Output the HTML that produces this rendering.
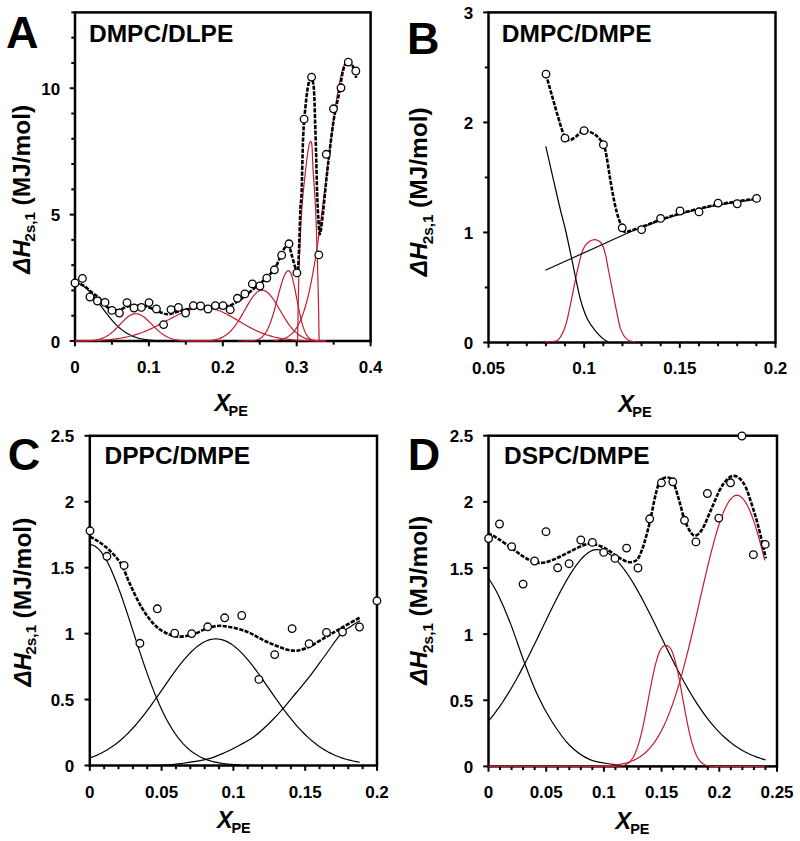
<!DOCTYPE html>
<html><head><meta charset="utf-8"><style>
html,body{margin:0;padding:0;background:#fff;}
svg{display:block;font-family:"Liberation Sans", sans-serif;}
</style></head><body>
<svg width="800" height="841" viewBox="0 0 800 841">
<rect width="800" height="841" fill="#fff"/>
<rect x="75" y="12.4" width="295.6" height="328.6" fill="none" stroke="#000" stroke-width="2.5"/>
<line x1="75" y1="341" x2="75" y2="346.3" stroke="#000" stroke-width="2"/>
<line x1="111.95" y1="341" x2="111.95" y2="344.7" stroke="#000" stroke-width="2"/>
<line x1="148.9" y1="341" x2="148.9" y2="346.3" stroke="#000" stroke-width="2"/>
<line x1="185.85" y1="341" x2="185.85" y2="344.7" stroke="#000" stroke-width="2"/>
<line x1="222.8" y1="341" x2="222.8" y2="346.3" stroke="#000" stroke-width="2"/>
<line x1="259.75" y1="341" x2="259.75" y2="344.7" stroke="#000" stroke-width="2"/>
<line x1="296.7" y1="341" x2="296.7" y2="346.3" stroke="#000" stroke-width="2"/>
<line x1="333.65" y1="341" x2="333.65" y2="344.7" stroke="#000" stroke-width="2"/>
<line x1="370.6" y1="341" x2="370.6" y2="346.3" stroke="#000" stroke-width="2"/>
<line x1="75" y1="341" x2="69.7" y2="341" stroke="#000" stroke-width="2"/>
<line x1="75" y1="315.72" x2="71.3" y2="315.72" stroke="#000" stroke-width="2"/>
<line x1="75" y1="290.45" x2="71.3" y2="290.45" stroke="#000" stroke-width="2"/>
<line x1="75" y1="265.17" x2="71.3" y2="265.17" stroke="#000" stroke-width="2"/>
<line x1="75" y1="239.89" x2="71.3" y2="239.89" stroke="#000" stroke-width="2"/>
<line x1="75" y1="214.62" x2="69.7" y2="214.62" stroke="#000" stroke-width="2"/>
<line x1="75" y1="189.34" x2="71.3" y2="189.34" stroke="#000" stroke-width="2"/>
<line x1="75" y1="164.06" x2="71.3" y2="164.06" stroke="#000" stroke-width="2"/>
<line x1="75" y1="138.78" x2="71.3" y2="138.78" stroke="#000" stroke-width="2"/>
<line x1="75" y1="113.51" x2="71.3" y2="113.51" stroke="#000" stroke-width="2"/>
<line x1="75" y1="88.23" x2="69.7" y2="88.23" stroke="#000" stroke-width="2"/>
<line x1="75" y1="62.95" x2="71.3" y2="62.95" stroke="#000" stroke-width="2"/>
<line x1="75" y1="37.68" x2="71.3" y2="37.68" stroke="#000" stroke-width="2"/>
<line x1="75" y1="12.4" x2="71.3" y2="12.4" stroke="#000" stroke-width="2"/>
<text x="75" y="373.2" font-size="17" text-anchor="middle" font-weight="bold" font-style="normal" >0</text>
<text x="148.9" y="373.2" font-size="17" text-anchor="middle" font-weight="bold" font-style="normal" >0.1</text>
<text x="222.8" y="373.2" font-size="17" text-anchor="middle" font-weight="bold" font-style="normal" >0.2</text>
<text x="296.7" y="373.2" font-size="17" text-anchor="middle" font-weight="bold" font-style="normal" >0.3</text>
<text x="370.6" y="373.2" font-size="17" text-anchor="middle" font-weight="bold" font-style="normal" >0.4</text>
<text x="60.2" y="347.6" font-size="17" text-anchor="end" font-weight="bold" font-style="normal" >0</text>
<text x="60.2" y="221.22" font-size="17" text-anchor="end" font-weight="bold" font-style="normal" >5</text>
<text x="60.2" y="94.83" font-size="17" text-anchor="end" font-weight="bold" font-style="normal" >10</text>
<text x="5.95" y="48.4" font-size="45" text-anchor="start" font-weight="bold" font-style="normal" >A</text>
<text x="89" y="42" font-size="24.5" text-anchor="start" font-weight="bold" font-style="normal" >DMPC/DLPE</text>
<text transform="translate(29.5 273.7) rotate(-90)" font-size="24" font-weight="bold" font-style="italic">&#916;H</text>
<text transform="translate(35.2 241.85) rotate(-90)" font-size="15.4" font-weight="bold">2s,1</text>
<text transform="translate(29.5 205.5) rotate(-90)" font-size="24.5" font-weight="bold">(MJ/mol)</text>
<text x="214.4" y="411.3" font-size="23.5" font-weight="bold" font-style="italic">X</text>
<text x="228.6" y="415.8" font-size="14.5" font-weight="bold">PE</text>
<path d="M75 283.12 L75.99 283.16 L76.97 283.28 L77.96 283.49 L78.94 283.78 L79.93 284.16 L80.91 284.61 L81.9 285.14 L82.88 285.74 L83.87 286.42 L84.85 287.17 L85.84 287.98 L86.82 288.86 L87.81 289.8 L88.79 290.79 L89.78 291.84 L90.77 292.93 L91.75 294.07 L92.74 295.24 L93.72 296.46 L94.71 297.7 L95.69 298.97 L96.68 300.26 L97.66 301.57 L98.65 302.89 L99.63 304.22 L100.62 305.56 L101.6 306.89 L102.59 308.23 L103.57 309.56 L104.56 310.87 L105.55 312.18 L106.53 313.47 L107.52 314.73 L108.5 315.98 L109.49 317.2 L110.47 318.4 L111.46 319.56 L112.44 320.7 L113.43 321.8 L114.41 322.87 L115.4 323.91 L116.38 324.91 L117.37 325.87 L118.35 326.79 L119.34 327.68 L120.33 328.53 L121.31 329.35 L122.3 330.12 L123.28 330.86 L124.27 331.57 L125.25 332.23 L126.24 332.86 L127.22 333.46 L128.21 334.02 L129.19 334.55 L130.18 335.05 L131.16 335.52 L132.15 335.96 L133.13 336.37 L134.12 336.75 L135.11 337.11 L136.09 337.44 L137.08 337.75 L138.06 338.04 L139.05 338.3 L140.03 338.55 L141.02 338.77 L142 338.98 L142.99 339.17 L143.97 339.35 L144.96 339.51 L145.94 339.65 L146.93 339.79 L147.91 339.91 L148.9 340.02 L149.89 340.12 L150.87 340.22 L151.86 340.3 L152.84 340.38 L153.83 340.44 L154.81 340.5 L155.8 340.56 L156.78 340.61 L157.77 340.65 L158.75 340.69 L159.74 340.73 L160.72 340.76 L161.71 340.79 L162.69 340.82 L163.68 340.84 L164.67 340.86 L165.65 340.88 L166.64 340.89 L167.62 340.9 L168.61 340.92 L169.59 340.93 L170.58 340.94 L171.56 340.95 L172.55 340.95 L173.53 340.96 L174.52 340.96 L175.5 340.97 L176.49 340.97 L177.47 340.98 L178.46 340.98 L179.45 340.98 L180.43 340.99 L181.42 340.99 L182.4 340.99 L183.39 340.99 L184.37 340.99 L185.36 340.99 L186.34 340.99 L187.33 341 L188.31 341 L189.3 341 L190.28 341 L191.27 341 L192.25 341 L193.24 341" fill="none" stroke="#000" stroke-width="1.2"/>
<path d="M75 340.99 L76.23 340.98 L77.46 340.98 L78.7 340.97 L79.93 340.96 L81.16 340.94 L82.39 340.92 L83.62 340.9 L84.85 340.87 L86.09 340.83 L87.32 340.78 L88.55 340.72 L89.78 340.65 L91.01 340.56 L92.24 340.45 L93.47 340.31 L94.71 340.15 L95.94 339.96 L97.17 339.73 L98.4 339.46 L99.63 339.14 L100.87 338.77 L102.1 338.34 L103.33 337.86 L104.56 337.31 L105.79 336.68 L107.02 335.99 L108.25 335.22 L109.49 334.37 L110.72 333.45 L111.95 332.45 L113.18 331.38 L114.41 330.25 L115.65 329.05 L116.88 327.81 L118.11 326.53 L119.34 325.23 L120.57 323.92 L121.8 322.61 L123.03 321.33 L124.27 320.09 L125.5 318.91 L126.73 317.81 L127.96 316.81 L129.19 315.93 L130.43 315.18 L131.66 314.57 L132.89 314.11 L134.12 313.82 L135.35 313.7 L136.58 313.75 L137.81 313.95 L139.05 314.31 L140.28 314.81 L141.51 315.45 L142.74 316.21 L143.97 317.09 L145.2 318.07 L146.44 319.14 L147.67 320.28 L148.9 321.47 L150.13 322.69 L151.36 323.94 L152.6 325.19 L153.83 326.44 L155.06 327.66 L156.29 328.85 L157.52 330 L158.75 331.1 L159.99 332.14 L161.22 333.11 L162.45 334.02 L163.68 334.86 L164.91 335.63 L166.14 336.33 L167.38 336.96 L168.61 337.52 L169.84 338.03 L171.07 338.47 L172.3 338.86 L173.53 339.21 L174.76 339.5 L176 339.75 L177.23 339.97 L178.46 340.15 L179.69 340.31 L180.92 340.44 L182.16 340.55 L183.39 340.64 L184.62 340.71 L185.85 340.77 L187.08 340.82 L188.31 340.86 L189.55 340.89 L190.78 340.91 L192.01 340.93 L193.24 340.95 L194.47 340.96 L195.7 340.97 L196.94 340.98 L198.17 340.98 L199.4 340.99 L200.63 340.99 L201.86 340.99 L203.09 341 L204.32 341 L205.56 341 L206.79 341 L208.02 341 L209.25 341 L210.48 341 L211.72 341 L212.95 341 L214.18 341 L215.41 341 L216.64 341 L217.87 341 L219.11 341 L220.34 341 L221.57 341 L222.8 341" fill="none" stroke="#c41c30" stroke-width="1.2"/>
<path d="M75 340.91 L77.03 340.89 L79.06 340.87 L81.1 340.84 L83.13 340.81 L85.16 340.77 L87.19 340.73 L89.23 340.69 L91.26 340.63 L93.29 340.56 L95.32 340.49 L97.35 340.41 L99.39 340.31 L101.42 340.2 L103.45 340.07 L105.48 339.93 L107.52 339.77 L109.55 339.59 L111.58 339.38 L113.61 339.16 L115.65 338.91 L117.68 338.63 L119.71 338.32 L121.74 337.98 L123.77 337.6 L125.81 337.19 L127.84 336.74 L129.87 336.26 L131.9 335.73 L133.94 335.17 L135.97 334.56 L138 333.91 L140.03 333.21 L142.06 332.47 L144.1 331.69 L146.13 330.87 L148.16 330.01 L150.19 329.11 L152.23 328.17 L154.26 327.19 L156.29 326.19 L158.32 325.16 L160.35 324.11 L162.39 323.04 L164.42 321.95 L166.45 320.86 L168.48 319.77 L170.52 318.69 L172.55 317.62 L174.58 316.56 L176.61 315.54 L178.64 314.55 L180.68 313.6 L182.71 312.69 L184.74 311.85 L186.77 311.06 L188.81 310.35 L190.84 309.7 L192.87 309.14 L194.9 308.66 L196.94 308.27 L198.97 307.97 L201 307.76 L203.03 307.65 L205.06 307.64 L207.1 307.75 L209.13 307.97 L211.16 308.3 L213.19 308.75 L215.23 309.31 L217.26 309.96 L219.29 310.72 L221.32 311.56 L223.35 312.47 L225.39 313.46 L227.42 314.51 L229.45 315.61 L231.48 316.75 L233.52 317.92 L235.55 319.12 L237.58 320.32 L239.61 321.53 L241.64 322.74 L243.68 323.93 L245.71 325.1 L247.74 326.24 L249.77 327.35 L251.81 328.42 L253.84 329.45 L255.87 330.43 L257.9 331.36 L259.93 332.25 L261.97 333.08 L264 333.85 L266.03 334.58 L268.06 335.25 L270.1 335.87 L272.13 336.44 L274.16 336.96 L276.19 337.43 L278.23 337.86 L280.26 338.25 L282.29 338.6 L284.32 338.91 L286.35 339.18 L288.39 339.43 L290.42 339.65 L292.45 339.84 L294.48 340.01 L296.52 340.16 L298.55 340.28 L300.58 340.39 L302.61 340.49 L304.64 340.57 L306.68 340.64 L308.71 340.7 L310.74 340.75 L312.77 340.79 L314.81 340.83 L316.84 340.86 L318.87 340.89" fill="none" stroke="#c41c30" stroke-width="1.2"/>
<path d="M185.85 341 L187.02 341 L188.19 340.99 L189.36 340.99 L190.53 340.99 L191.7 340.99 L192.87 340.98 L194.04 340.98 L195.21 340.97 L196.38 340.96 L197.55 340.95 L198.72 340.93 L199.89 340.92 L201.06 340.89 L202.23 340.86 L203.4 340.83 L204.57 340.79 L205.74 340.73 L206.91 340.67 L208.08 340.59 L209.25 340.5 L210.42 340.39 L211.59 340.25 L212.76 340.09 L213.93 339.9 L215.1 339.68 L216.27 339.42 L217.44 339.12 L218.61 338.77 L219.78 338.37 L220.95 337.91 L222.12 337.38 L223.29 336.78 L224.46 336.11 L225.63 335.36 L226.8 334.52 L227.97 333.58 L229.14 332.55 L230.31 331.43 L231.48 330.2 L232.65 328.86 L233.82 327.43 L234.99 325.89 L236.16 324.26 L237.33 322.53 L238.5 320.72 L239.67 318.83 L240.84 316.88 L242.01 314.87 L243.18 312.82 L244.35 310.75 L245.52 308.68 L246.69 306.62 L247.86 304.59 L249.03 302.62 L250.2 300.72 L251.37 298.93 L252.54 297.25 L253.71 295.71 L254.88 294.33 L256.06 293.12 L257.23 292.11 L258.4 291.3 L259.57 290.71 L260.74 290.34 L261.91 290.19 L263.08 290.28 L264.25 290.57 L265.42 291.08 L266.59 291.79 L267.76 292.7 L268.93 293.79 L270.1 295.06 L271.27 296.47 L272.44 298.03 L273.61 299.71 L274.78 301.49 L275.95 303.35 L277.12 305.28 L278.29 307.26 L279.46 309.25 L280.63 311.26 L281.8 313.26 L282.97 315.23 L284.14 317.17 L285.31 319.05 L286.48 320.87 L287.65 322.62 L288.82 324.28 L289.99 325.86 L291.16 327.35 L292.33 328.75 L293.5 330.05 L294.67 331.25 L295.84 332.35 L297.01 333.37 L298.18 334.29 L299.35 335.13 L300.52 335.88 L301.69 336.56 L302.86 337.16 L304.03 337.7 L305.2 338.17 L306.37 338.59 L307.54 338.95 L308.71 339.26 L309.88 339.54 L311.05 339.77 L312.22 339.98 L313.39 340.15 L314.56 340.29 L315.73 340.42 L316.9 340.52 L318.07 340.61 L319.24 340.68 L320.41 340.74 L321.58 340.79 L322.75 340.83 L323.92 340.87 L325.09 340.89 L326.26 340.92" fill="none" stroke="#c41c30" stroke-width="1.2"/>
<path d="M237.58 341 L238.32 341 L239.06 341 L239.8 341 L240.54 340.99 L241.28 340.99 L242.01 340.99 L242.75 340.99 L243.49 340.98 L244.23 340.98 L244.97 340.97 L245.71 340.96 L246.45 340.95 L247.19 340.93 L247.93 340.92 L248.67 340.89 L249.4 340.86 L250.14 340.83 L250.88 340.78 L251.62 340.73 L252.36 340.66 L253.1 340.58 L253.84 340.48 L254.58 340.36 L255.32 340.22 L256.06 340.05 L256.79 339.85 L257.53 339.61 L258.27 339.32 L259.01 338.99 L259.75 338.61 L260.49 338.16 L261.23 337.65 L261.97 337.06 L262.71 336.38 L263.44 335.62 L264.18 334.75 L264.92 333.78 L265.66 332.7 L266.4 331.49 L267.14 330.16 L267.88 328.69 L268.62 327.09 L269.36 325.36 L270.1 323.48 L270.84 321.46 L271.57 319.31 L272.31 317.03 L273.05 314.63 L273.79 312.11 L274.53 309.5 L275.27 306.8 L276.01 304.03 L276.75 301.22 L277.49 298.38 L278.23 295.54 L278.96 292.73 L279.7 289.97 L280.44 287.3 L281.18 284.73 L281.92 282.31 L282.66 280.05 L283.4 277.98 L284.14 276.13 L284.88 274.53 L285.62 273.18 L286.35 272.12 L287.09 271.35 L287.83 270.89 L288.57 270.73 L289.31 271.02 L290.05 271.88 L290.79 273.3 L291.53 275.23 L292.27 277.63 L293 280.44 L293.74 283.61 L294.48 287.06 L295.22 290.72 L295.96 294.52 L296.7 298.38 L297.44 302.24 L298.18 306.05 L298.92 309.74 L299.66 313.27 L300.4 316.6 L301.13 319.71 L301.87 322.58 L302.61 325.19 L303.35 327.54 L304.09 329.64 L304.83 331.49 L305.57 333.1 L306.31 334.5 L307.05 335.69 L307.79 336.7 L308.52 337.54 L309.26 338.25 L310 338.82 L310.74 339.3 L311.48 339.68 L312.22 339.98 L312.96 340.22 L313.7 340.41 L314.44 340.55 L315.18 340.67 L315.91 340.75 L316.65 340.82 L317.39 340.87 L318.13 340.91 L318.87 340.93 L319.61 340.95 L320.35 340.97 L321.09 340.98 L321.83 340.98 L322.57 340.99 L323.3 340.99 L324.04 340.99 L324.78 341 L325.52 341 L326.26 341" fill="none" stroke="#c41c30" stroke-width="1.2"/>
<path d="M297.6 341C297.68 335.67 297.8 322.85 298.1 309C298.4 295.15 298.75 274.95 299.4 257.9C300.05 240.85 300.93 221.62 302 206.7C303.07 191.78 304.72 178.18 305.8 168.4C306.88 158.62 307.73 152.48 308.5 148C309.27 143.52 309.82 141.83 310.4 141.5C310.98 141.17 311.57 141.52 312 146C312.43 150.48 312.42 158.28 313 168.4C313.58 178.52 314.78 191.78 315.5 206.7C316.22 221.62 316.78 240.85 317.3 257.9C317.82 274.95 318.3 295.15 318.6 309C318.9 322.85 319.02 335.67 319.1 341" fill="none" stroke="#c41c30" stroke-width="1.2"/>
<path d="M274.53 340.46 L275.21 340.4 L275.89 340.32 L276.57 340.24 L277.25 340.15 L277.93 340.05 L278.61 339.94 L279.29 339.82 L279.97 339.68 L280.65 339.53 L281.33 339.37 L282.02 339.19 L282.7 338.99 L283.38 338.77 L284.06 338.53 L284.74 338.27 L285.42 337.98 L286.1 337.67 L286.78 337.33 L287.46 336.96 L288.14 336.56 L288.82 336.12 L289.5 335.64 L290.18 335.13 L290.86 334.57 L291.54 333.97 L292.22 333.31 L292.9 332.61 L293.58 331.85 L294.26 331.04 L294.94 330.16 L295.63 329.22 L296.31 328.21 L296.99 327.13 L297.67 325.97 L298.35 324.74 L299.03 323.42 L299.71 322.01 L300.39 320.52 L301.07 318.93 L301.75 317.25 L302.43 315.46 L303.11 313.57 L303.79 311.58 L304.47 309.47 L305.15 307.24 L305.83 304.9 L306.51 302.44 L307.19 299.85 L307.87 297.14 L308.55 294.3 L309.24 291.33 L309.92 288.23 L310.6 285 L311.28 281.63 L311.96 278.12 L312.64 274.49 L313.32 270.71 L314 266.81 L314.68 262.77 L315.36 258.6 L316.04 254.3 L316.72 249.88 L317.4 245.33 L318.08 240.67 L318.76 235.89 L319.44 231 L320.12 226.01 L320.8 220.93 L321.48 215.75 L322.16 210.5 L322.85 205.17 L323.53 199.77 L324.21 194.32 L324.89 188.83 L325.57 183.29 L326.25 177.74 L326.93 172.17 L327.61 166.6 L328.29 161.04 L328.97 155.51 L329.65 150.01 L330.33 144.56 L331.01 139.17 L331.69 133.86 L332.37 128.64 L333.05 123.52 L333.73 118.53 L334.41 113.66 L335.09 108.94 L335.77 104.37 L336.46 99.98 L337.14 95.77 L337.82 91.75 L338.5 87.95 L339.18 84.36 L339.86 81 L340.54 77.89 L341.22 75.03 L341.9 72.42 L342.58 70.08 L343.26 68.02 L343.94 66.24 L344.62 64.75 L345.3 63.55 L345.98 62.64 L346.66 62.03 L347.34 61.73 L348.02 61.71 L348.7 61.85 L349.38 62.15 L350.07 62.59 L350.75 63.18 L351.43 63.91 L352.11 64.79 L352.79 65.81 L353.47 66.97 L354.15 68.27 L354.83 69.71 L355.51 71.29 L356.19 73" fill="none" stroke="#c41c30" stroke-width="1.2"/>
<path d="M75 283.5C75.83 283.54 78.12 283.08 80 283.75C81.88 284.42 84.17 285.94 86.25 287.5C88.33 289.06 90.42 291.43 92.5 293.1C94.58 294.77 96.46 295.31 98.75 297.5C101.04 299.69 103.75 304.17 106.25 306.25C108.75 308.33 111.46 309.42 113.75 310C116.04 310.58 117.92 310.27 120 309.75C122.08 309.23 124.17 307.62 126.25 306.9C128.33 306.17 130.21 305.62 132.5 305.4C134.79 305.18 137.5 305.35 140 305.6C142.5 305.85 145 306.17 147.5 306.9C150 307.63 152.5 308.97 155 310C157.5 311.03 160.2 312.4 162.5 313.1C164.8 313.8 165.88 314.55 168.8 314.2C171.72 313.85 175.93 312 180 311C184.07 310 188.82 308.83 193.2 308.2C197.58 307.57 201.62 307.37 206.3 307.2C210.98 307.03 216.92 307.67 221.3 307.2C225.68 306.73 228.85 306.12 232.6 304.4C236.35 302.68 240.05 299.72 243.8 296.9C247.55 294.08 251.35 290.63 255.1 287.5C258.85 284.37 262.87 281.53 266.3 278.1C269.73 274.67 272.93 271.45 275.7 266.9C278.47 262.35 280.78 254.4 282.9 250.8C285.02 247.2 286.87 244.37 288.4 245.3C289.93 246.23 290.87 252.4 292.1 256.4C293.33 260.4 294.85 266.87 295.8 269.3C296.75 271.73 297.23 275.05 297.8 271C298.37 266.95 298.77 255.43 299.2 245C299.63 234.57 300 217.13 300.4 208.4C300.8 199.67 301.13 204.73 301.6 192.6C302.07 180.47 302.5 150.45 303.2 135.6C303.9 120.75 304.92 112.12 305.8 103.5C306.68 94.88 307.53 88.07 308.5 83.9C309.47 79.73 310.7 77.62 311.6 78.5C312.5 79.38 313.32 82.07 313.9 89.2C314.48 96.33 314.72 110 315.1 121.3C315.48 132.6 315.87 145.12 316.2 157C316.53 168.88 316.75 182.5 317.1 192.6C317.45 202.7 317.85 210.67 318.3 217.6C318.75 224.53 319.1 234.2 319.8 234.2C320.5 234.2 321.58 224.97 322.5 217.6C323.42 210.23 324.37 198.92 325.3 190C326.23 181.08 326.73 175.55 328.1 164.1C329.47 152.65 331.72 132.88 333.5 121.3C335.28 109.72 337.17 103.22 338.8 94.6C340.43 85.98 341.82 75.1 343.3 69.6C344.78 64.1 346.07 62.05 347.7 61.6C349.33 61.15 351.68 64.2 353.1 66.9C354.52 69.6 355.68 75.98 356.2 77.8" fill="none" stroke="#000" stroke-width="2.6" stroke-dasharray="4.2 1.4"/>
<circle cx="75" cy="283" r="3.8" fill="#fff" stroke="#000" stroke-width="1.3"/>
<circle cx="82.4" cy="278.4" r="3.8" fill="#fff" stroke="#000" stroke-width="1.3"/>
<circle cx="90" cy="297" r="3.8" fill="#fff" stroke="#000" stroke-width="1.3"/>
<circle cx="97.4" cy="301" r="3.8" fill="#fff" stroke="#000" stroke-width="1.3"/>
<circle cx="105" cy="302.4" r="3.8" fill="#fff" stroke="#000" stroke-width="1.3"/>
<circle cx="112" cy="310.4" r="3.8" fill="#fff" stroke="#000" stroke-width="1.3"/>
<circle cx="119.4" cy="313" r="3.8" fill="#fff" stroke="#000" stroke-width="1.3"/>
<circle cx="127" cy="302.6" r="3.8" fill="#fff" stroke="#000" stroke-width="1.3"/>
<circle cx="134" cy="308" r="3.8" fill="#fff" stroke="#000" stroke-width="1.3"/>
<circle cx="141.4" cy="307.4" r="3.8" fill="#fff" stroke="#000" stroke-width="1.3"/>
<circle cx="149" cy="302.6" r="3.8" fill="#fff" stroke="#000" stroke-width="1.3"/>
<circle cx="156.4" cy="309" r="3.8" fill="#fff" stroke="#000" stroke-width="1.3"/>
<circle cx="163.6" cy="324.6" r="3.8" fill="#fff" stroke="#000" stroke-width="1.3"/>
<circle cx="171" cy="309.6" r="3.8" fill="#fff" stroke="#000" stroke-width="1.3"/>
<circle cx="178.4" cy="307.4" r="3.8" fill="#fff" stroke="#000" stroke-width="1.3"/>
<circle cx="185.6" cy="313" r="3.8" fill="#fff" stroke="#000" stroke-width="1.3"/>
<circle cx="193.4" cy="305.6" r="3.8" fill="#fff" stroke="#000" stroke-width="1.3"/>
<circle cx="200.6" cy="306" r="3.8" fill="#fff" stroke="#000" stroke-width="1.3"/>
<circle cx="208" cy="309" r="3.8" fill="#fff" stroke="#000" stroke-width="1.3"/>
<circle cx="215.4" cy="305.6" r="3.8" fill="#fff" stroke="#000" stroke-width="1.3"/>
<circle cx="223" cy="305.6" r="3.8" fill="#fff" stroke="#000" stroke-width="1.3"/>
<circle cx="230.2" cy="309.7" r="3.8" fill="#fff" stroke="#000" stroke-width="1.3"/>
<circle cx="237.4" cy="298.3" r="3.8" fill="#fff" stroke="#000" stroke-width="1.3"/>
<circle cx="244.9" cy="293.9" r="3.8" fill="#fff" stroke="#000" stroke-width="1.3"/>
<circle cx="252.4" cy="283.9" r="3.8" fill="#fff" stroke="#000" stroke-width="1.3"/>
<circle cx="259.9" cy="286" r="3.8" fill="#fff" stroke="#000" stroke-width="1.3"/>
<circle cx="266.8" cy="278.1" r="3.8" fill="#fff" stroke="#000" stroke-width="1.3"/>
<circle cx="274.4" cy="269.8" r="3.8" fill="#fff" stroke="#000" stroke-width="1.3"/>
<circle cx="281.7" cy="255.2" r="3.8" fill="#fff" stroke="#000" stroke-width="1.3"/>
<circle cx="289" cy="243.8" r="3.8" fill="#fff" stroke="#000" stroke-width="1.3"/>
<circle cx="296.9" cy="272.9" r="3.8" fill="#fff" stroke="#000" stroke-width="1.3"/>
<circle cx="304.1" cy="119.2" r="3.8" fill="#fff" stroke="#000" stroke-width="1.3"/>
<circle cx="311.6" cy="77.1" r="3.8" fill="#fff" stroke="#000" stroke-width="1.3"/>
<circle cx="318.8" cy="254.9" r="3.8" fill="#fff" stroke="#000" stroke-width="1.3"/>
<circle cx="326.3" cy="154.3" r="3.8" fill="#fff" stroke="#000" stroke-width="1.3"/>
<circle cx="333.5" cy="108.8" r="3.8" fill="#fff" stroke="#000" stroke-width="1.3"/>
<circle cx="341" cy="87.8" r="3.8" fill="#fff" stroke="#000" stroke-width="1.3"/>
<circle cx="348.3" cy="62.1" r="3.8" fill="#fff" stroke="#000" stroke-width="1.3"/>
<circle cx="355.8" cy="71" r="3.8" fill="#fff" stroke="#000" stroke-width="1.3"/>
<rect x="488.5" y="12.4" width="287" height="330.1" fill="none" stroke="#000" stroke-width="2.5"/>
<line x1="488.5" y1="342.5" x2="488.5" y2="347.8" stroke="#000" stroke-width="2"/>
<line x1="507.63" y1="342.5" x2="507.63" y2="346.2" stroke="#000" stroke-width="2"/>
<line x1="526.77" y1="342.5" x2="526.77" y2="346.2" stroke="#000" stroke-width="2"/>
<line x1="545.9" y1="342.5" x2="545.9" y2="346.2" stroke="#000" stroke-width="2"/>
<line x1="565.03" y1="342.5" x2="565.03" y2="346.2" stroke="#000" stroke-width="2"/>
<line x1="584.17" y1="342.5" x2="584.17" y2="347.8" stroke="#000" stroke-width="2"/>
<line x1="603.3" y1="342.5" x2="603.3" y2="346.2" stroke="#000" stroke-width="2"/>
<line x1="622.43" y1="342.5" x2="622.43" y2="346.2" stroke="#000" stroke-width="2"/>
<line x1="641.57" y1="342.5" x2="641.57" y2="346.2" stroke="#000" stroke-width="2"/>
<line x1="660.7" y1="342.5" x2="660.7" y2="346.2" stroke="#000" stroke-width="2"/>
<line x1="679.83" y1="342.5" x2="679.83" y2="347.8" stroke="#000" stroke-width="2"/>
<line x1="698.97" y1="342.5" x2="698.97" y2="346.2" stroke="#000" stroke-width="2"/>
<line x1="718.1" y1="342.5" x2="718.1" y2="346.2" stroke="#000" stroke-width="2"/>
<line x1="737.23" y1="342.5" x2="737.23" y2="346.2" stroke="#000" stroke-width="2"/>
<line x1="756.37" y1="342.5" x2="756.37" y2="346.2" stroke="#000" stroke-width="2"/>
<line x1="775.5" y1="342.5" x2="775.5" y2="347.8" stroke="#000" stroke-width="2"/>
<line x1="488.5" y1="342.5" x2="483.2" y2="342.5" stroke="#000" stroke-width="2"/>
<line x1="488.5" y1="287.48" x2="484.8" y2="287.48" stroke="#000" stroke-width="2"/>
<line x1="488.5" y1="232.47" x2="483.2" y2="232.47" stroke="#000" stroke-width="2"/>
<line x1="488.5" y1="177.45" x2="484.8" y2="177.45" stroke="#000" stroke-width="2"/>
<line x1="488.5" y1="122.43" x2="483.2" y2="122.43" stroke="#000" stroke-width="2"/>
<line x1="488.5" y1="67.42" x2="484.8" y2="67.42" stroke="#000" stroke-width="2"/>
<line x1="488.5" y1="12.4" x2="483.2" y2="12.4" stroke="#000" stroke-width="2"/>
<text x="488.5" y="374.2" font-size="17" text-anchor="middle" font-weight="bold" font-style="normal" >0.05</text>
<text x="584.17" y="374.2" font-size="17" text-anchor="middle" font-weight="bold" font-style="normal" >0.1</text>
<text x="679.83" y="374.2" font-size="17" text-anchor="middle" font-weight="bold" font-style="normal" >0.15</text>
<text x="775.5" y="374.2" font-size="17" text-anchor="middle" font-weight="bold" font-style="normal" >0.2</text>
<text x="473.3" y="349.1" font-size="17" text-anchor="end" font-weight="bold" font-style="normal" >0</text>
<text x="473.3" y="239.07" font-size="17" text-anchor="end" font-weight="bold" font-style="normal" >1</text>
<text x="473.3" y="129.03" font-size="17" text-anchor="end" font-weight="bold" font-style="normal" >2</text>
<text x="473.3" y="19" font-size="17" text-anchor="end" font-weight="bold" font-style="normal" >3</text>
<text x="406.9" y="53.75" font-size="45" text-anchor="start" font-weight="bold" font-style="normal" >B</text>
<text x="501.8" y="41.6" font-size="24.5" text-anchor="start" font-weight="bold" font-style="normal" >DMPC/DMPE</text>
<text transform="translate(426.8 276.2) rotate(-90)" font-size="24" font-weight="bold" font-style="italic">&#916;H</text>
<text transform="translate(432.5 244.35) rotate(-90)" font-size="15.4" font-weight="bold">2s,1</text>
<text transform="translate(426.8 208) rotate(-90)" font-size="24.5" font-weight="bold">(MJ/mol)</text>
<text x="618.2" y="411.9" font-size="23.5" font-weight="bold" font-style="italic">X</text>
<text x="632.3" y="417.2" font-size="14.5" font-weight="bold">PE</text>
<path d="M545 342.2C546.17 342.08 549.72 341.97 552 341.5C554.28 341.03 556.45 342.02 558.7 339.4C560.95 336.78 563.57 331.5 565.5 325.8C567.43 320.1 568.82 312.05 570.3 305.2C571.78 298.35 573.03 291.3 574.4 284.7C575.77 278.1 577.13 271.3 578.5 265.6C579.87 259.9 581.12 254.27 582.6 250.5C584.08 246.73 585.47 244.82 587.4 243C589.33 241.18 591.92 239.6 594.2 239.6C596.48 239.6 599.27 240.72 601.1 243C602.93 245.28 603.95 248.63 605.2 253.3C606.45 257.97 607.35 264.62 608.6 271C609.85 277.38 611.33 284.75 612.7 291.6C614.07 298.45 615.43 305.72 616.8 312.1C618.17 318.48 619.18 325.35 620.9 329.9C622.62 334.45 624.7 337.35 627.1 339.4C629.5 341.45 633.93 341.73 635.3 342.2" fill="none" stroke="#c41c30" stroke-width="1.2"/>
<path d="M545.8 146.3C548 155.92 555.72 190.05 559 204C562.28 217.95 563.38 220.88 565.5 230C567.62 239.12 569.87 250.03 571.7 258.7C573.53 267.37 574.9 274.7 576.5 282C578.1 289.3 579.48 296.35 581.3 302.5C583.12 308.65 585.02 314.12 587.4 318.9C589.78 323.68 592.87 327.78 595.6 331.2C598.33 334.62 601.73 337.68 603.8 339.4C605.87 341.12 607.3 341.15 608 341.5" fill="none" stroke="#000" stroke-width="1.2"/>
<path d="M545.4 270.2C549.9 268.17 563.35 262.08 572.4 258C581.45 253.92 590.58 249.83 599.7 245.7C608.82 241.57 619.55 236.45 627.1 233.2C634.65 229.95 638.52 228.67 645 226.2C651.48 223.73 658.5 220.87 666 218.4C673.5 215.93 682 213.5 690 211.4C698 209.3 706 207.4 714 205.8C722 204.2 730.9 202.9 738 201.8C745.1 200.7 753.5 199.63 756.6 199.2" fill="none" stroke="#000" stroke-width="1.2"/>
<path d="M546 74.1C546.58 76.25 548.27 82.58 549.5 87C550.73 91.42 551.7 94.68 553.4 100.6C555.1 106.52 557.93 116.77 559.7 122.5C561.47 128.23 562.45 132.03 564 135C565.55 137.97 567 140.05 569 140.3C571 140.55 573.48 138.12 576 136.5C578.52 134.88 580.83 130.85 584.1 130.6C587.37 130.35 592.38 132.65 595.6 135C598.82 137.35 601.6 141.27 603.4 144.7C605.2 148.13 605.22 149.55 606.4 155.6C607.58 161.65 609.1 172.93 610.5 181C611.9 189.07 613.47 197.83 614.8 204C616.13 210.17 617.27 214.08 618.5 218C619.73 221.92 620.95 225.2 622.2 227.5C623.45 229.8 622.2 232.1 626 231.8C629.8 231.5 638.33 228.02 645 225.7C651.67 223.38 658.5 220.37 666 217.9C673.5 215.43 682 213 690 210.9C698 208.8 706 206.9 714 205.3C722 203.7 730.9 202.42 738 201.3C745.1 200.18 753.5 199.05 756.6 198.6" fill="none" stroke="#000" stroke-width="2.6" stroke-dasharray="4.2 1.4"/>
<circle cx="546" cy="74.1" r="3.8" fill="#fff" stroke="#000" stroke-width="1.3"/>
<circle cx="565" cy="138.1" r="3.8" fill="#fff" stroke="#000" stroke-width="1.3"/>
<circle cx="584.1" cy="130.6" r="3.8" fill="#fff" stroke="#000" stroke-width="1.3"/>
<circle cx="603.4" cy="144.7" r="3.8" fill="#fff" stroke="#000" stroke-width="1.3"/>
<circle cx="622.2" cy="227.8" r="3.8" fill="#fff" stroke="#000" stroke-width="1.3"/>
<circle cx="641.6" cy="229.7" r="3.8" fill="#fff" stroke="#000" stroke-width="1.3"/>
<circle cx="660.6" cy="218.4" r="3.8" fill="#fff" stroke="#000" stroke-width="1.3"/>
<circle cx="680" cy="211" r="3.8" fill="#fff" stroke="#000" stroke-width="1.3"/>
<circle cx="699" cy="211.9" r="3.8" fill="#fff" stroke="#000" stroke-width="1.3"/>
<circle cx="718.1" cy="203.1" r="3.8" fill="#fff" stroke="#000" stroke-width="1.3"/>
<circle cx="737.2" cy="203.75" r="3.8" fill="#fff" stroke="#000" stroke-width="1.3"/>
<circle cx="756.6" cy="198.4" r="3.8" fill="#fff" stroke="#000" stroke-width="1.3"/>
<rect x="89.8" y="435.8" width="287.2" height="329.7" fill="none" stroke="#000" stroke-width="2.5"/>
<line x1="89.8" y1="765.5" x2="89.8" y2="770.8" stroke="#000" stroke-width="2"/>
<line x1="104.16" y1="765.5" x2="104.16" y2="769.2" stroke="#000" stroke-width="2"/>
<line x1="118.52" y1="765.5" x2="118.52" y2="769.2" stroke="#000" stroke-width="2"/>
<line x1="132.88" y1="765.5" x2="132.88" y2="769.2" stroke="#000" stroke-width="2"/>
<line x1="147.24" y1="765.5" x2="147.24" y2="769.2" stroke="#000" stroke-width="2"/>
<line x1="161.6" y1="765.5" x2="161.6" y2="770.8" stroke="#000" stroke-width="2"/>
<line x1="175.96" y1="765.5" x2="175.96" y2="769.2" stroke="#000" stroke-width="2"/>
<line x1="190.32" y1="765.5" x2="190.32" y2="769.2" stroke="#000" stroke-width="2"/>
<line x1="204.68" y1="765.5" x2="204.68" y2="769.2" stroke="#000" stroke-width="2"/>
<line x1="219.04" y1="765.5" x2="219.04" y2="769.2" stroke="#000" stroke-width="2"/>
<line x1="233.4" y1="765.5" x2="233.4" y2="770.8" stroke="#000" stroke-width="2"/>
<line x1="247.76" y1="765.5" x2="247.76" y2="769.2" stroke="#000" stroke-width="2"/>
<line x1="262.12" y1="765.5" x2="262.12" y2="769.2" stroke="#000" stroke-width="2"/>
<line x1="276.48" y1="765.5" x2="276.48" y2="769.2" stroke="#000" stroke-width="2"/>
<line x1="290.84" y1="765.5" x2="290.84" y2="769.2" stroke="#000" stroke-width="2"/>
<line x1="305.2" y1="765.5" x2="305.2" y2="770.8" stroke="#000" stroke-width="2"/>
<line x1="319.56" y1="765.5" x2="319.56" y2="769.2" stroke="#000" stroke-width="2"/>
<line x1="333.92" y1="765.5" x2="333.92" y2="769.2" stroke="#000" stroke-width="2"/>
<line x1="348.28" y1="765.5" x2="348.28" y2="769.2" stroke="#000" stroke-width="2"/>
<line x1="362.64" y1="765.5" x2="362.64" y2="769.2" stroke="#000" stroke-width="2"/>
<line x1="377" y1="765.5" x2="377" y2="770.8" stroke="#000" stroke-width="2"/>
<line x1="89.8" y1="765.5" x2="84.5" y2="765.5" stroke="#000" stroke-width="2"/>
<line x1="89.8" y1="699.56" x2="84.5" y2="699.56" stroke="#000" stroke-width="2"/>
<line x1="89.8" y1="633.62" x2="84.5" y2="633.62" stroke="#000" stroke-width="2"/>
<line x1="89.8" y1="567.68" x2="84.5" y2="567.68" stroke="#000" stroke-width="2"/>
<line x1="89.8" y1="501.74" x2="84.5" y2="501.74" stroke="#000" stroke-width="2"/>
<line x1="89.8" y1="435.8" x2="84.5" y2="435.8" stroke="#000" stroke-width="2"/>
<text x="89.8" y="797.6" font-size="17" text-anchor="middle" font-weight="bold" font-style="normal" >0</text>
<text x="161.6" y="797.6" font-size="17" text-anchor="middle" font-weight="bold" font-style="normal" >0.05</text>
<text x="233.4" y="797.6" font-size="17" text-anchor="middle" font-weight="bold" font-style="normal" >0.1</text>
<text x="305.2" y="797.6" font-size="17" text-anchor="middle" font-weight="bold" font-style="normal" >0.15</text>
<text x="377" y="797.6" font-size="17" text-anchor="middle" font-weight="bold" font-style="normal" >0.2</text>
<text x="74.3" y="772.1" font-size="17" text-anchor="end" font-weight="bold" font-style="normal" >0</text>
<text x="74.3" y="706.16" font-size="17" text-anchor="end" font-weight="bold" font-style="normal" >0.5</text>
<text x="74.3" y="640.22" font-size="17" text-anchor="end" font-weight="bold" font-style="normal" >1</text>
<text x="74.3" y="574.28" font-size="17" text-anchor="end" font-weight="bold" font-style="normal" >1.5</text>
<text x="74.3" y="508.34" font-size="17" text-anchor="end" font-weight="bold" font-style="normal" >2</text>
<text x="74.3" y="442.4" font-size="17" text-anchor="end" font-weight="bold" font-style="normal" >2.5</text>
<text x="7.65" y="469.6" font-size="45" text-anchor="start" font-weight="bold" font-style="normal" >C</text>
<text x="104.5" y="464.4" font-size="24.5" text-anchor="start" font-weight="bold" font-style="normal" >DPPC/DMPE</text>
<text transform="translate(30.5 686.6) rotate(-90)" font-size="24" font-weight="bold" font-style="italic">&#916;H</text>
<text transform="translate(36.2 654.75) rotate(-90)" font-size="15.4" font-weight="bold">2s,1</text>
<text transform="translate(30.5 618.4) rotate(-90)" font-size="24.5" font-weight="bold">(MJ/mol)</text>
<text x="217" y="827.8" font-size="23.5" font-weight="bold" font-style="italic">X</text>
<text x="231.45" y="833.1" font-size="14.5" font-weight="bold">PE</text>
<path d="M89.8 544.6 L91.06 544.69 L92.31 544.97 L93.57 545.43 L94.83 546.08 L96.08 546.91 L97.34 547.91 L98.6 549.1 L99.85 550.46 L101.11 551.98 L102.36 553.68 L103.62 555.54 L104.88 557.56 L106.13 559.73 L107.39 562.05 L108.65 564.51 L109.9 567.11 L111.16 569.84 L112.42 572.69 L113.67 575.66 L114.93 578.74 L116.19 581.93 L117.44 585.21 L118.7 588.59 L119.96 592.04 L121.21 595.57 L122.47 599.17 L123.73 602.83 L124.98 606.54 L126.24 610.3 L127.49 614.1 L128.75 617.92 L130.01 621.78 L131.26 625.64 L132.52 629.52 L133.78 633.4 L135.03 637.28 L136.29 641.15 L137.55 645 L138.8 648.84 L140.06 652.64 L141.32 656.41 L142.57 660.15 L143.83 663.84 L145.09 667.49 L146.34 671.08 L147.6 674.62 L148.86 678.1 L150.11 681.51 L151.37 684.87 L152.62 688.15 L153.88 691.36 L155.14 694.5 L156.39 697.56 L157.65 700.54 L158.91 703.45 L160.16 706.27 L161.42 709.01 L162.68 711.68 L163.93 714.26 L165.19 716.75 L166.45 719.17 L167.7 721.5 L168.96 723.75 L170.22 725.91 L171.47 728 L172.73 730.01 L173.99 731.93 L175.24 733.78 L176.5 735.56 L177.75 737.25 L179.01 738.88 L180.27 740.43 L181.52 741.91 L182.78 743.32 L184.04 744.66 L185.29 745.94 L186.55 747.16 L187.81 748.31 L189.06 749.41 L190.32 750.45 L191.58 751.43 L192.83 752.36 L194.09 753.24 L195.35 754.07 L196.6 754.85 L197.86 755.59 L199.12 756.29 L200.37 756.94 L201.63 757.55 L202.88 758.13 L204.14 758.67 L205.4 759.17 L206.65 759.64 L207.91 760.09 L209.17 760.5 L210.42 760.88 L211.68 761.24 L212.94 761.58 L214.19 761.89 L215.45 762.18 L216.71 762.45 L217.96 762.7 L219.22 762.93 L220.48 763.14 L221.73 763.34 L222.99 763.52 L224.25 763.69 L225.5 763.85 L226.76 763.99 L228.01 764.12 L229.27 764.25 L230.53 764.36 L231.78 764.46 L233.04 764.56 L234.3 764.64 L235.55 764.72 L236.81 764.79 L238.07 764.86 L239.32 764.92 L240.58 764.98" fill="none" stroke="#000" stroke-width="1.2"/>
<path d="M89.8 757.92 L92.05 757.13 L94.3 756.27 L96.55 755.34 L98.8 754.33 L101.05 753.25 L103.3 752.09 L105.55 750.84 L107.8 749.51 L110.05 748.09 L112.3 746.57 L114.55 744.96 L116.8 743.25 L119.05 741.45 L121.3 739.54 L123.55 737.53 L125.8 735.42 L128.05 733.21 L130.3 730.9 L132.54 728.5 L134.79 725.99 L137.04 723.39 L139.29 720.7 L141.54 717.92 L143.79 715.07 L146.04 712.13 L148.29 709.13 L150.54 706.06 L152.79 702.94 L155.04 699.77 L157.29 696.57 L159.54 693.34 L161.79 690.09 L164.04 686.84 L166.29 683.6 L168.54 680.37 L170.79 677.18 L173.04 674.03 L175.29 670.94 L177.54 667.92 L179.79 664.98 L182.04 662.14 L184.29 659.41 L186.54 656.8 L188.79 654.33 L191.04 652 L193.29 649.84 L195.54 647.84 L197.79 646.03 L200.04 644.4 L202.29 642.97 L204.54 641.75 L206.79 640.74 L209.04 639.94 L211.29 639.37 L213.54 639.02 L215.79 638.9 L218.03 639 L220.28 639.33 L222.53 639.88 L224.78 640.66 L227.03 641.65 L229.28 642.86 L231.53 644.27 L233.78 645.88 L236.03 647.68 L238.28 649.66 L240.53 651.81 L242.78 654.13 L245.03 656.59 L247.28 659.18 L249.53 661.9 L251.78 664.73 L254.03 667.66 L256.28 670.68 L258.53 673.76 L260.78 676.91 L263.03 680.1 L265.28 683.32 L267.53 686.57 L269.78 689.82 L272.03 693.06 L274.28 696.3 L276.53 699.5 L278.78 702.67 L281.03 705.8 L283.28 708.87 L285.53 711.88 L287.78 714.82 L290.03 717.68 L292.28 720.47 L294.53 723.17 L296.78 725.77 L299.03 728.29 L301.27 730.7 L303.52 733.02 L305.77 735.24 L308.02 737.36 L310.27 739.37 L312.52 741.29 L314.77 743.1 L317.02 744.82 L319.27 746.44 L321.52 747.96 L323.77 749.39 L326.02 750.73 L328.27 751.99 L330.52 753.15 L332.77 754.24 L335.02 755.25 L337.27 756.19 L339.52 757.06 L341.77 757.85 L344.02 758.59 L346.27 759.27 L348.52 759.89 L350.77 760.45 L353.02 760.97 L355.27 761.45 L357.52 761.87 L359.77 762.26" fill="none" stroke="#000" stroke-width="1.2"/>
<path d="M150 765.6C152.5 765.5 160 765.32 165 765C170 764.68 173 764.67 180 763.7C187 762.73 199.5 761.07 207 759.2C214.5 757.33 219.5 754.87 225 752.5C230.5 750.13 235 747.75 240 745C245 742.25 250 739.75 255 736C260 732.25 265.25 727.13 270 722.5C274.75 717.87 279.17 713.12 283.5 708.2C287.83 703.28 291.73 698.17 296 693C300.27 687.83 304.27 683.45 309.1 677.2C313.93 670.95 319.73 662.67 325 655.5C330.27 648.33 336.53 638.95 340.7 634.2C344.87 629.45 346.78 629.25 350 627C353.22 624.75 358.33 621.75 360 620.7" fill="none" stroke="#000" stroke-width="1.2"/>
<path d="M90 536.7C91.43 537.52 95.28 539.27 98.6 541.6C101.92 543.93 106.13 546.93 109.9 550.7C113.67 554.47 117.82 558.55 121.2 564.2C124.58 569.85 126.82 577.43 130.2 584.6C133.58 591.77 137.73 600.8 141.5 607.2C145.27 613.6 149.03 618.87 152.8 623C156.57 627.13 159.95 629.73 164.1 632C168.25 634.27 172.8 636.22 177.7 636.6C182.6 636.98 188.62 635.67 193.5 634.3C198.38 632.93 202.25 629.8 207 628.4C211.75 627 215.57 625.43 222 625.9C228.43 626.37 238.17 628.57 245.6 631.2C253.03 633.83 259.17 638.52 266.6 641.7C274.03 644.88 283.63 649.22 290.2 650.3C296.77 651.38 299.87 650.52 306 648.2C312.13 645.88 320.88 639.9 327 636.4C333.12 632.9 337.2 630.35 342.7 627.2C348.2 624.05 357.12 619.12 360 617.5" fill="none" stroke="#000" stroke-width="2.6" stroke-dasharray="4.2 1.4"/>
<circle cx="90" cy="530.8" r="3.8" fill="#fff" stroke="#000" stroke-width="1.3"/>
<circle cx="106.9" cy="556.3" r="3.8" fill="#fff" stroke="#000" stroke-width="1.3"/>
<circle cx="124.1" cy="565.4" r="3.8" fill="#fff" stroke="#000" stroke-width="1.3"/>
<circle cx="139.9" cy="643.3" r="3.8" fill="#fff" stroke="#000" stroke-width="1.3"/>
<circle cx="157.3" cy="608.8" r="3.8" fill="#fff" stroke="#000" stroke-width="1.3"/>
<circle cx="174.7" cy="633.2" r="3.8" fill="#fff" stroke="#000" stroke-width="1.3"/>
<circle cx="191.7" cy="633.6" r="3.8" fill="#fff" stroke="#000" stroke-width="1.3"/>
<circle cx="207.7" cy="626.8" r="3.8" fill="#fff" stroke="#000" stroke-width="1.3"/>
<circle cx="224.7" cy="617.8" r="3.8" fill="#fff" stroke="#000" stroke-width="1.3"/>
<circle cx="241.75" cy="615.5" r="3.8" fill="#fff" stroke="#000" stroke-width="1.3"/>
<circle cx="258.9" cy="679.4" r="3.8" fill="#fff" stroke="#000" stroke-width="1.3"/>
<circle cx="274.7" cy="654.6" r="3.8" fill="#fff" stroke="#000" stroke-width="1.3"/>
<circle cx="292.1" cy="628.6" r="3.8" fill="#fff" stroke="#000" stroke-width="1.3"/>
<circle cx="309.1" cy="643.7" r="3.8" fill="#fff" stroke="#000" stroke-width="1.3"/>
<circle cx="326.5" cy="632.4" r="3.8" fill="#fff" stroke="#000" stroke-width="1.3"/>
<circle cx="342.5" cy="632" r="3.8" fill="#fff" stroke="#000" stroke-width="1.3"/>
<circle cx="359.5" cy="627" r="3.8" fill="#fff" stroke="#000" stroke-width="1.3"/>
<circle cx="376.9" cy="600.8" r="3.8" fill="#fff" stroke="#000" stroke-width="1.3"/>
<rect x="488.5" y="435.7" width="288.5" height="330.7" fill="none" stroke="#000" stroke-width="2.5"/>
<line x1="488.5" y1="766.4" x2="488.5" y2="771.7" stroke="#000" stroke-width="2"/>
<line x1="500.04" y1="766.4" x2="500.04" y2="770.1" stroke="#000" stroke-width="2"/>
<line x1="511.58" y1="766.4" x2="511.58" y2="770.1" stroke="#000" stroke-width="2"/>
<line x1="523.12" y1="766.4" x2="523.12" y2="770.1" stroke="#000" stroke-width="2"/>
<line x1="534.66" y1="766.4" x2="534.66" y2="770.1" stroke="#000" stroke-width="2"/>
<line x1="546.2" y1="766.4" x2="546.2" y2="771.7" stroke="#000" stroke-width="2"/>
<line x1="557.74" y1="766.4" x2="557.74" y2="770.1" stroke="#000" stroke-width="2"/>
<line x1="569.28" y1="766.4" x2="569.28" y2="770.1" stroke="#000" stroke-width="2"/>
<line x1="580.82" y1="766.4" x2="580.82" y2="770.1" stroke="#000" stroke-width="2"/>
<line x1="592.36" y1="766.4" x2="592.36" y2="770.1" stroke="#000" stroke-width="2"/>
<line x1="603.9" y1="766.4" x2="603.9" y2="771.7" stroke="#000" stroke-width="2"/>
<line x1="615.44" y1="766.4" x2="615.44" y2="770.1" stroke="#000" stroke-width="2"/>
<line x1="626.98" y1="766.4" x2="626.98" y2="770.1" stroke="#000" stroke-width="2"/>
<line x1="638.52" y1="766.4" x2="638.52" y2="770.1" stroke="#000" stroke-width="2"/>
<line x1="650.06" y1="766.4" x2="650.06" y2="770.1" stroke="#000" stroke-width="2"/>
<line x1="661.6" y1="766.4" x2="661.6" y2="771.7" stroke="#000" stroke-width="2"/>
<line x1="673.14" y1="766.4" x2="673.14" y2="770.1" stroke="#000" stroke-width="2"/>
<line x1="684.68" y1="766.4" x2="684.68" y2="770.1" stroke="#000" stroke-width="2"/>
<line x1="696.22" y1="766.4" x2="696.22" y2="770.1" stroke="#000" stroke-width="2"/>
<line x1="707.76" y1="766.4" x2="707.76" y2="770.1" stroke="#000" stroke-width="2"/>
<line x1="719.3" y1="766.4" x2="719.3" y2="771.7" stroke="#000" stroke-width="2"/>
<line x1="730.84" y1="766.4" x2="730.84" y2="770.1" stroke="#000" stroke-width="2"/>
<line x1="742.38" y1="766.4" x2="742.38" y2="770.1" stroke="#000" stroke-width="2"/>
<line x1="753.92" y1="766.4" x2="753.92" y2="770.1" stroke="#000" stroke-width="2"/>
<line x1="765.46" y1="766.4" x2="765.46" y2="770.1" stroke="#000" stroke-width="2"/>
<line x1="777" y1="766.4" x2="777" y2="771.7" stroke="#000" stroke-width="2"/>
<line x1="488.5" y1="766.4" x2="483.2" y2="766.4" stroke="#000" stroke-width="2"/>
<line x1="488.5" y1="700.26" x2="483.2" y2="700.26" stroke="#000" stroke-width="2"/>
<line x1="488.5" y1="634.12" x2="483.2" y2="634.12" stroke="#000" stroke-width="2"/>
<line x1="488.5" y1="567.98" x2="483.2" y2="567.98" stroke="#000" stroke-width="2"/>
<line x1="488.5" y1="501.84" x2="483.2" y2="501.84" stroke="#000" stroke-width="2"/>
<line x1="488.5" y1="435.7" x2="483.2" y2="435.7" stroke="#000" stroke-width="2"/>
<text x="488.5" y="797.6" font-size="17" text-anchor="middle" font-weight="bold" font-style="normal" >0</text>
<text x="546.2" y="797.6" font-size="17" text-anchor="middle" font-weight="bold" font-style="normal" >0.05</text>
<text x="603.9" y="797.6" font-size="17" text-anchor="middle" font-weight="bold" font-style="normal" >0.1</text>
<text x="661.6" y="797.6" font-size="17" text-anchor="middle" font-weight="bold" font-style="normal" >0.15</text>
<text x="719.3" y="797.6" font-size="17" text-anchor="middle" font-weight="bold" font-style="normal" >0.2</text>
<text x="777" y="797.6" font-size="17" text-anchor="middle" font-weight="bold" font-style="normal" >0.25</text>
<text x="473.3" y="773" font-size="17" text-anchor="end" font-weight="bold" font-style="normal" >0</text>
<text x="473.3" y="706.86" font-size="17" text-anchor="end" font-weight="bold" font-style="normal" >0.5</text>
<text x="473.3" y="640.72" font-size="17" text-anchor="end" font-weight="bold" font-style="normal" >1</text>
<text x="473.3" y="574.58" font-size="17" text-anchor="end" font-weight="bold" font-style="normal" >1.5</text>
<text x="473.3" y="508.44" font-size="17" text-anchor="end" font-weight="bold" font-style="normal" >2</text>
<text x="473.3" y="442.3" font-size="17" text-anchor="end" font-weight="bold" font-style="normal" >2.5</text>
<text x="407.7" y="469.7" font-size="45" text-anchor="start" font-weight="bold" font-style="normal" >D</text>
<text x="504" y="463.8" font-size="24.5" text-anchor="start" font-weight="bold" font-style="normal" >DSPC/DMPE</text>
<text transform="translate(427.2 684.8) rotate(-90)" font-size="24" font-weight="bold" font-style="italic">&#916;H</text>
<text transform="translate(432.9 652.95) rotate(-90)" font-size="15.4" font-weight="bold">2s,1</text>
<text transform="translate(427.2 616.6) rotate(-90)" font-size="24.5" font-weight="bold">(MJ/mol)</text>
<text x="615.6" y="828.8" font-size="23.5" font-weight="bold" font-style="italic">X</text>
<text x="630.2" y="834" font-size="14.5" font-weight="bold">PE</text>
<path d="M488.5 578C490.05 580.68 494.1 586.42 497.8 594.1C501.5 601.78 506.27 612.68 510.7 624.1C515.13 635.52 519.93 650.78 524.4 662.6C528.87 674.42 532.95 685.23 537.5 695C542.05 704.77 546.32 712.78 551.7 721.2C557.08 729.62 563.42 739.1 569.8 745.5C576.18 751.9 582.58 756.42 590 759.6C597.42 762.78 608.23 763.5 614.3 764.6C620.37 765.7 624.38 765.93 626.4 766.2" fill="none" stroke="#000" stroke-width="1.2"/>
<path d="M488.5 721.06 L490.23 718.97 L491.96 716.82 L493.69 714.6 L495.42 712.31 L497.15 709.95 L498.89 707.53 L500.62 705.04 L502.35 702.48 L504.08 699.85 L505.81 697.16 L507.54 694.4 L509.27 691.58 L511 688.69 L512.73 685.75 L514.47 682.74 L516.2 679.67 L517.93 676.55 L519.66 673.37 L521.39 670.14 L523.12 666.86 L524.85 663.53 L526.58 660.16 L528.31 656.74 L530.04 653.29 L531.77 649.81 L533.51 646.29 L535.24 642.76 L536.97 639.19 L538.7 635.62 L540.43 632.03 L542.16 628.43 L543.89 624.83 L545.62 621.24 L547.35 617.66 L549.09 614.09 L550.82 610.54 L552.55 607.02 L554.28 603.54 L556.01 600.09 L557.74 596.7 L559.47 593.35 L561.2 590.07 L562.93 586.86 L564.66 583.73 L566.39 580.67 L568.13 577.71 L569.86 574.85 L571.59 572.1 L573.32 569.46 L575.05 566.94 L576.78 564.55 L578.51 562.3 L580.24 560.2 L581.97 558.26 L583.7 556.48 L585.44 554.87 L587.17 553.45 L588.9 552.23 L590.63 551.21 L592.36 550.42 L594.09 549.87 L595.82 549.6 L597.55 549.64 L599.28 549.85 L601.01 550.21 L602.75 550.73 L604.48 551.41 L606.21 552.24 L607.94 553.22 L609.67 554.36 L611.4 555.64 L613.13 557.07 L614.86 558.64 L616.59 560.34 L618.33 562.19 L620.06 564.16 L621.79 566.26 L623.52 568.49 L625.25 570.83 L626.98 573.28 L628.71 575.85 L630.44 578.52 L632.17 581.28 L633.9 584.14 L635.63 587.08 L637.37 590.11 L639.1 593.21 L640.83 596.38 L642.56 599.62 L644.29 602.91 L646.02 606.26 L647.75 609.65 L649.48 613.08 L651.21 616.54 L652.95 620.04 L654.68 623.56 L656.41 627.09 L658.14 630.64 L659.87 634.19 L661.6 637.74 L663.33 641.29 L665.06 644.83 L666.79 648.36 L668.52 651.87 L670.25 655.35 L671.99 658.81 L673.72 662.24 L675.45 665.63 L677.18 668.98 L678.91 672.29 L680.64 675.55 L682.37 678.76 L684.1 681.92 L685.83 685.03 L687.57 688.08 L689.3 691.07 L691.03 694 L692.76 696.87 L694.49 699.67 L696.22 702.4 L697.95 705.07 L699.68 707.67 L701.41 710.2 L703.14 712.66 L704.88 715.05 L706.61 717.37 L708.34 719.62 L710.07 721.8 L711.8 723.91 L713.53 725.95 L715.26 727.92 L716.99 729.82 L718.72 731.65 L720.45 733.41 L722.18 735.11 L723.92 736.74 L725.65 738.31 L727.38 739.81 L729.11 741.25 L730.84 742.63 L732.57 743.95 L734.3 745.22 L736.03 746.42 L737.76 747.58 L739.5 748.67 L741.23 749.72 L742.96 750.72 L744.69 751.66 L746.42 752.56 L748.15 753.42 L749.88 754.23 L751.61 755 L753.34 755.73 L755.07 756.41 L756.81 757.07 L758.54 757.68 L760.27 758.26 L762 758.81 L763.73 759.32 L765.46 759.81" fill="none" stroke="#000" stroke-width="1.2"/>
<path d="M488.5 766.4 L489.65 766.4 L490.81 766.4 L491.96 766.4 L493.12 766.4 L494.27 766.4 L495.42 766.4 L496.58 766.4 L497.73 766.4 L498.89 766.4 L500.04 766.4 L501.19 766.4 L502.35 766.4 L503.5 766.4 L504.66 766.4 L505.81 766.4 L506.96 766.4 L508.12 766.4 L509.27 766.4 L510.43 766.4 L511.58 766.4 L512.73 766.4 L513.89 766.4 L515.04 766.4 L516.2 766.4 L517.35 766.4 L518.5 766.4 L519.66 766.4 L520.81 766.4 L521.97 766.4 L523.12 766.4 L524.27 766.4 L525.43 766.4 L526.58 766.4 L527.74 766.4 L528.89 766.4 L530.04 766.4 L531.2 766.4 L532.35 766.4 L533.51 766.4 L534.66 766.4 L535.81 766.4 L536.97 766.4 L538.12 766.4 L539.28 766.4 L540.43 766.4 L541.58 766.4 L542.74 766.4 L543.89 766.4 L545.05 766.4 L546.2 766.4 L547.35 766.4 L548.51 766.4 L549.66 766.4 L550.82 766.4 L551.97 766.4 L553.12 766.4 L554.28 766.4 L555.43 766.4 L556.59 766.4 L557.74 766.4 L558.89 766.4 L560.05 766.4 L561.2 766.4 L562.36 766.4 L563.51 766.4 L564.66 766.4 L565.82 766.4 L566.97 766.4 L568.13 766.4 L569.28 766.4 L570.43 766.4 L571.59 766.4 L572.74 766.4 L573.9 766.4 L575.05 766.4 L576.2 766.4 L577.36 766.4 L578.51 766.4 L579.67 766.4 L580.82 766.4 L581.97 766.4 L583.13 766.4 L584.28 766.4 L585.44 766.4 L586.59 766.4 L587.74 766.4 L588.9 766.4 L590.05 766.4 L591.21 766.4 L592.36 766.4 L593.51 766.4 L594.67 766.4 L595.82 766.4 L596.98 766.4 L598.13 766.4 L599.28 766.4 L600.44 766.4 L601.59 766.4 L602.75 766.4 L603.9 766.4 L605.05 766.4 L606.21 766.4 L607.36 766.4 L608.52 766.39 L609.67 766.39 L610.82 766.38 L611.98 766.38 L613.13 766.36 L614.29 766.34 L615.44 766.31 L616.59 766.27 L617.75 766.22 L618.9 766.14 L620.06 766.02 L621.21 765.87 L622.36 765.67 L623.52 765.39 L624.67 765.03 L625.83 764.57 L626.98 763.97 L628.13 763.21 L629.29 762.27 L630.44 761.11 L631.6 759.69 L632.75 757.98 L633.9 755.96 L635.06 753.58 L636.21 750.82 L637.37 747.65 L638.52 744.08 L639.67 740.08 L640.83 735.67 L641.98 730.86 L643.14 725.68 L644.29 720.18 L645.44 714.4 L646.6 708.42 L647.75 702.3 L648.91 696.14 L650.06 690.02 L651.21 684.02 L652.37 678.24 L653.52 672.77 L654.68 667.67 L655.83 663.03 L656.98 658.89 L658.14 655.3 L659.29 652.29 L660.45 649.86 L661.6 648.02 L662.75 646.72 L663.91 645.92 L665.06 645.56 L666.22 645.5 L667.37 645.68 L668.52 646.26 L669.68 647.35 L670.83 649.03 L671.99 651.32 L673.14 654.25 L674.29 657.81 L675.45 661.99 L676.6 666.72 L677.76 671.96 L678.91 677.63 L680.06 683.63 L681.22 689.88 L682.37 696.28 L683.53 702.71 L684.68 709.08 L685.83 715.3 L686.99 721.28 L688.14 726.96 L689.3 732.27 L690.45 737.16 L691.6 741.62 L692.76 745.62 L693.91 749.16 L695.07 752.25 L696.22 754.92 L697.37 757.2 L698.53 759.1 L699.68 760.68 L700.84 761.97 L701.99 763.01 L703.14 763.84 L704.3 764.49 L705.45 764.99 L706.61 765.37 L707.76 765.66 L708.91 765.88 L710.07 766.03 L711.22 766.15 L712.38 766.23 L713.53 766.28 L714.68 766.32 L715.84 766.35 L716.99 766.37 L718.15 766.38 L719.3 766.39 L720.45 766.39 L721.61 766.4 L722.76 766.4 L723.92 766.4 L725.07 766.4 L726.22 766.4 L727.38 766.4 L728.53 766.4 L729.69 766.4 L730.84 766.4 L731.99 766.4 L733.15 766.4 L734.3 766.4 L735.46 766.4 L736.61 766.4 L737.76 766.4 L738.92 766.4 L740.07 766.4 L741.23 766.4 L742.38 766.4 L743.53 766.4 L744.69 766.4 L745.84 766.4 L747 766.4 L748.15 766.4 L749.3 766.4 L750.46 766.4 L751.61 766.4 L752.77 766.4 L753.92 766.4 L755.07 766.4 L756.23 766.4 L757.38 766.4 L758.54 766.4 L759.69 766.4 L760.84 766.4 L762 766.4 L763.15 766.4 L764.31 766.4 L765.46 766.4" fill="none" stroke="#c41c30" stroke-width="1.2"/>
<path d="M488.5 766.4 L490.8 766.4 L493.1 766.4 L495.41 766.4 L497.71 766.4 L500.01 766.4 L502.31 766.4 L504.62 766.4 L506.92 766.4 L509.22 766.4 L511.52 766.4 L513.82 766.4 L516.13 766.4 L518.43 766.4 L520.73 766.4 L523.03 766.4 L525.34 766.4 L527.64 766.4 L529.94 766.4 L532.24 766.4 L534.54 766.4 L536.85 766.4 L539.15 766.4 L541.45 766.4 L543.75 766.4 L546.06 766.4 L548.36 766.4 L550.66 766.4 L552.96 766.4 L555.26 766.4 L557.57 766.4 L559.87 766.4 L562.17 766.39 L564.47 766.39 L566.78 766.39 L569.08 766.39 L571.38 766.38 L573.68 766.38 L575.98 766.37 L578.29 766.36 L580.59 766.35 L582.89 766.34 L585.19 766.32 L587.5 766.3 L589.8 766.28 L592.1 766.24 L594.4 766.2 L596.7 766.15 L599.01 766.09 L601.31 766.01 L603.61 765.91 L605.91 765.79 L608.22 765.65 L610.52 765.48 L612.82 765.27 L615.12 765.01 L617.42 764.71 L619.73 764.35 L622.03 763.92 L624.33 763.41 L626.63 762.82 L628.94 762.12 L631.24 761.3 L633.54 760.34 L635.84 759.24 L638.14 757.97 L640.45 756.51 L642.75 754.83 L645.05 752.93 L647.35 750.77 L649.66 748.34 L651.96 745.61 L654.26 742.55 L656.56 739.14 L658.87 735.37 L661.17 731.2 L663.47 726.63 L665.77 721.63 L668.07 716.19 L670.38 710.31 L672.68 703.96 L674.98 697.17 L677.28 689.92 L679.59 682.23 L681.89 674.12 L684.19 665.61 L686.49 656.72 L688.79 647.51 L691.1 638 L693.4 628.25 L695.7 618.32 L698 608.27 L700.31 598.18 L702.61 588.12 L704.91 578.16 L707.21 568.4 L709.51 558.91 L711.82 549.79 L714.12 541.11 L716.42 532.97 L718.72 525.45 L721.03 518.62 L723.33 512.55 L725.63 507.31 L727.93 502.96 L730.23 499.55 L732.54 497.1 L734.84 495.66 L737.14 495.23 L739.44 495.82 L741.75 497.43 L744.05 500.03 L746.35 503.6 L748.65 508.1 L750.95 513.47 L753.26 519.66 L755.56 526.61 L757.86 534.24 L760.16 542.47 L762.47 551.22 L764.77 560.41" fill="none" stroke="#c41c30" stroke-width="1.2"/>
<path d="M488 533.2C489.63 534.08 493.85 536.02 497.8 538.5C501.75 540.98 507.42 545.07 511.7 548.1C515.98 551.13 519.75 554.38 523.5 556.7C527.25 559.02 530.63 561.03 534.2 562C537.77 562.97 540.98 563.21 544.9 562.5C548.82 561.79 553.42 559.62 557.7 557.75C561.98 555.88 566.32 553.38 570.6 551.3C574.88 549.22 579.83 546.53 583.4 545.3C586.97 544.07 588.43 543.43 592 543.9C595.57 544.37 600.53 545.97 604.8 548.1C609.07 550.23 613.68 554.38 617.6 556.7C621.52 559.02 625.08 561.47 628.3 562C631.52 562.53 634.58 562.03 636.9 559.9C639.22 557.77 640.68 553.02 642.2 549.2C643.72 545.38 644.65 541.9 646 537C647.35 532.1 648.68 526.93 650.3 519.8C651.92 512.67 654.08 500.62 655.7 494.2C657.32 487.78 658.22 484.08 660 481.3C661.78 478.52 664.27 477.5 666.4 477.5C668.53 477.5 670.67 477.45 672.8 481.3C674.93 485.15 677.25 494.18 679.2 500.6C681.15 507.02 682.53 514.45 684.5 519.8C686.47 525.15 689.1 530.08 691 532.7C692.9 535.32 693.95 536.22 695.9 535.5C697.85 534.78 700.13 532.8 702.7 528.4C705.27 524 708.45 515.52 711.3 509.1C714.15 502.68 717.3 494.7 719.8 489.9C722.3 485.1 724.15 482.62 726.3 480.3C728.45 477.98 730.57 476.37 732.7 476C734.83 475.63 736.97 476.32 739.1 478.1C741.23 479.88 743.37 482.23 745.5 486.7C747.63 491.17 749.77 498.3 751.9 504.9C754.03 511.5 755.98 517.4 758.3 526.3C760.62 535.2 764.55 552.97 765.8 558.3" fill="none" stroke="#000" stroke-width="2.6" stroke-dasharray="4.2 1.4"/>
<circle cx="488.6" cy="538.5" r="3.8" fill="#fff" stroke="#000" stroke-width="1.3"/>
<circle cx="499.5" cy="524" r="3.8" fill="#fff" stroke="#000" stroke-width="1.3"/>
<circle cx="511.7" cy="546.6" r="3.8" fill="#fff" stroke="#000" stroke-width="1.3"/>
<circle cx="523.1" cy="584.1" r="3.8" fill="#fff" stroke="#000" stroke-width="1.3"/>
<circle cx="534.6" cy="561" r="3.8" fill="#fff" stroke="#000" stroke-width="1.3"/>
<circle cx="546" cy="531.7" r="3.8" fill="#fff" stroke="#000" stroke-width="1.3"/>
<circle cx="557.7" cy="567.8" r="3.8" fill="#fff" stroke="#000" stroke-width="1.3"/>
<circle cx="569.1" cy="563.7" r="3.8" fill="#fff" stroke="#000" stroke-width="1.3"/>
<circle cx="580.8" cy="540" r="3.8" fill="#fff" stroke="#000" stroke-width="1.3"/>
<circle cx="592.4" cy="542.4" r="3.8" fill="#fff" stroke="#000" stroke-width="1.3"/>
<circle cx="603.7" cy="552.4" r="3.8" fill="#fff" stroke="#000" stroke-width="1.3"/>
<circle cx="615" cy="558.4" r="3.8" fill="#fff" stroke="#000" stroke-width="1.3"/>
<circle cx="626.6" cy="548.1" r="3.8" fill="#fff" stroke="#000" stroke-width="1.3"/>
<circle cx="638" cy="568" r="3.8" fill="#fff" stroke="#000" stroke-width="1.3"/>
<circle cx="649.7" cy="518.8" r="3.8" fill="#fff" stroke="#000" stroke-width="1.3"/>
<circle cx="661.4" cy="482.8" r="3.8" fill="#fff" stroke="#000" stroke-width="1.3"/>
<circle cx="672.8" cy="481.8" r="3.8" fill="#fff" stroke="#000" stroke-width="1.3"/>
<circle cx="684.5" cy="520.3" r="3.8" fill="#fff" stroke="#000" stroke-width="1.3"/>
<circle cx="695.9" cy="541.9" r="3.8" fill="#fff" stroke="#000" stroke-width="1.3"/>
<circle cx="707.4" cy="493.5" r="3.8" fill="#fff" stroke="#000" stroke-width="1.3"/>
<circle cx="718.8" cy="518.1" r="3.8" fill="#fff" stroke="#000" stroke-width="1.3"/>
<circle cx="730.5" cy="482.8" r="3.8" fill="#fff" stroke="#000" stroke-width="1.3"/>
<circle cx="741.9" cy="436" r="3.8" fill="#fff" stroke="#000" stroke-width="1.3"/>
<circle cx="753.4" cy="554.7" r="3.8" fill="#fff" stroke="#000" stroke-width="1.3"/>
<circle cx="765.2" cy="544.4" r="3.8" fill="#fff" stroke="#000" stroke-width="1.3"/>
</svg>
</body></html>
